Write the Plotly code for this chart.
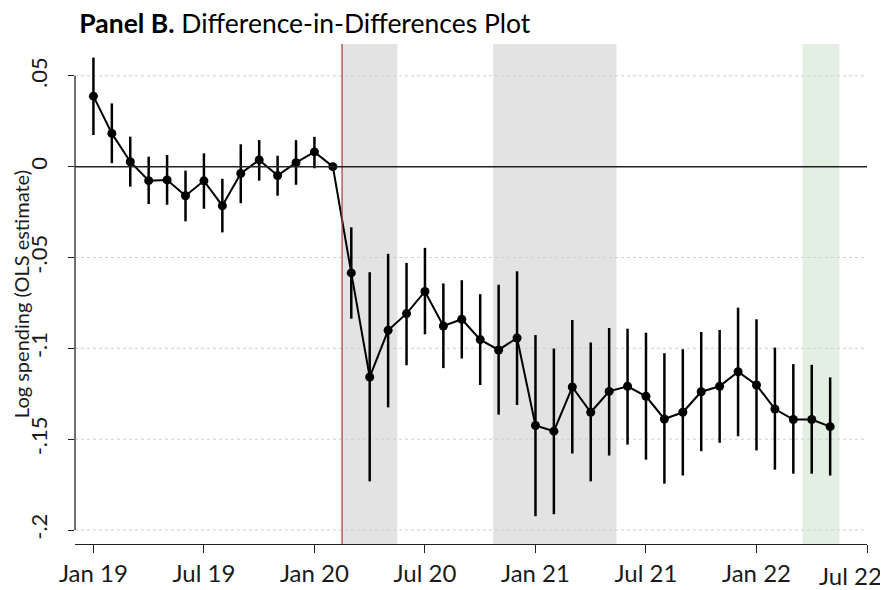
import plotly.graph_objects as go

# months since Jan 2019 (0 = Jan 19, 40 = May 22)
month = list(range(41))

coef = [0.0388, 0.0183, 0.0027, -0.0077, -0.0073, -0.0160, -0.0078, -0.0215, -0.0038, 0.0037,
        -0.0049, 0.0022, 0.0081, 0.0000,
        -0.0585, -0.1158, -0.0901, -0.0809, -0.0687, -0.0877, -0.0840, -0.0952, -0.1009, -0.0943,
        -0.1425, -0.1456, -0.1213, -0.1352, -0.1237, -0.1209, -0.1264, -0.1389, -0.1352, -0.1239,
        -0.1209, -0.1129, -0.1202, -0.1334, -0.1392, -0.1392, -0.1431]

ci_hi = [0.0600, 0.0348, 0.0165, 0.0055, 0.0064, -0.0022, 0.0073, -0.0067, 0.0123, 0.0146,
         0.0060, 0.0146, 0.0164, 0.0000,
         -0.0334, -0.0581, -0.0480, -0.0530, -0.0447, -0.0643, -0.0625, -0.0702, -0.0650, -0.0576,
         -0.0927, -0.1001, -0.0844, -0.0968, -0.0888, -0.0892, -0.0914, -0.1027, -0.1005, -0.0910,
         -0.0899, -0.0776, -0.0840, -0.0996, -0.1087, -0.1091, -0.1160]

ci_lo = [0.0174, 0.0019, -0.0110, -0.0206, -0.0210, -0.0301, -0.0232, -0.0362, -0.0201, -0.0077,
         -0.0160, -0.0100, -0.0009, 0.0000,
         -0.0837, -0.1732, -0.1325, -0.1093, -0.0923, -0.1109, -0.1056, -0.1202, -0.1365, -0.1312,
         -0.1924, -0.1913, -0.1579, -0.1732, -0.1590, -0.1530, -0.1613, -0.1745, -0.1700, -0.1566,
         -0.1520, -0.1484, -0.1562, -0.1668, -0.1690, -0.1690, -0.1700]

tick_months = [0, 6, 12, 18, 24, 30, 36, 42]
tick_labels = ["Jan 19", "Jul 19", "Jan 20", "Jul 20", "Jan 21", "Jul 21", "Jan 22", "Jul 22"]
y_ticks = [0.05, 0, -0.05, -0.1, -0.15, -0.2]
y_labels = [".05", "0", "-.05", "-.1", "-.15", "-.2"]
grid_vals = [0.05, -0.05, -0.1, -0.15, -0.2]

gray_bands = [(13.5, 16.5), (21.7, 28.4)]
green_band = (38.5, 40.5)
event_month = 13.5

fig = go.Figure()
fig.add_trace(go.Scatter(
    x=month, y=coef, mode="lines+markers",
    line=dict(color="black", width=2),
    marker=dict(color="black", size=9),
    error_y=dict(type="data", symmetric=False,
                 array=[h - c for h, c in zip(ci_hi, coef)],
                 arrayminus=[c - l for l, c in zip(ci_lo, coef)],
                 color="black", thickness=2.5, width=0),
    showlegend=False,
))

shapes = []
for a, b in gray_bands:
    shapes.append(dict(type="rect", xref="x", yref="paper", x0=a, x1=b, y0=0, y1=1,
                       fillcolor="#e3e3e3", line_width=0, layer="below"))
shapes.append(dict(type="rect", xref="x", yref="paper", x0=green_band[0], x1=green_band[1], y0=0, y1=1,
                   fillcolor="#e2efe2", line_width=0, layer="below"))
for g in grid_vals:
    shapes.append(dict(type="line", xref="paper", yref="y", x0=0, x1=0.997, y0=g, y1=g,
                       line=dict(color="#cfcfcf", width=1, dash="dot"), layer="below"))
shapes.append(dict(type="line", xref="x", yref="paper", x0=event_month, x1=event_month, y0=0, y1=1,
                   line=dict(color="#a84848", width=1.3)))
shapes.append(dict(type="line", xref="paper", yref="y", x0=0, x1=1, y0=0, y1=0,
                   line=dict(color="#222222", width=1.5)))
# stata-style y axis line only across the tick range
shapes.append(dict(type="line", xref="paper", yref="y", x0=0, x1=0, y0=-0.2, y1=0.05,
                   line=dict(color="#222222", width=1.3)))

# last x label sits left of its tick (as in the original), drawn as annotation
last_label = dict(text=tick_labels[-1], xref="x", yref="paper", x=41.1, y=0,
                  xanchor="center", yanchor="middle", yshift=-31, showarrow=False,
                  font=dict(size=24, color="#1a1a1a"))
y_title = dict(text="Log spending (OLS estimate)", textangle=-90,
               xref="paper", yref="paper", x=-0.068, y=0.5,
               xanchor="center", yanchor="middle", showarrow=False,
               font=dict(size=20, color="#1a1a1a"))

# page body adds an 8px margin, so the figure is drawn 8px smaller
fig.update_layout(
    width=880, height=582,
    margin=dict(l=67, r=20.5, t=36, b=46),
    paper_bgcolor="white", plot_bgcolor="white",
    font=dict(family="Lato", color="#1a1a1a"),
    title=dict(text="<b>Panel B.</b> Difference-in-Differences Plot",
               x=0.081, xanchor="left", y=0.973, yanchor="middle",
               font=dict(size=26.5, color="black")),
    shapes=shapes,
    annotations=[last_label, y_title],
)
fig.update_xaxes(
    range=[-1, 42], tickvals=tick_months, ticktext=tick_labels[:-1] + [""],
    showgrid=False, zeroline=False, showline=True, linecolor="#222222", linewidth=1.3,
    ticks="outside", ticklen=8, tickwidth=1.3, tickcolor="#222222",
    tickfont=dict(size=24), automargin=False,
)
fig.update_yaxes(
    range=[-0.2077, 0.0675], tickvals=y_ticks, ticktext=y_labels,
    showgrid=False, zeroline=False, showline=False,
    ticks="outside", ticklen=6, tickwidth=1.3, tickcolor="#222222",
    tickangle=-90, tickfont=dict(size=22), automargin=False,
    ticklabelstandoff=12,
)

fig.write_html("out.html")
